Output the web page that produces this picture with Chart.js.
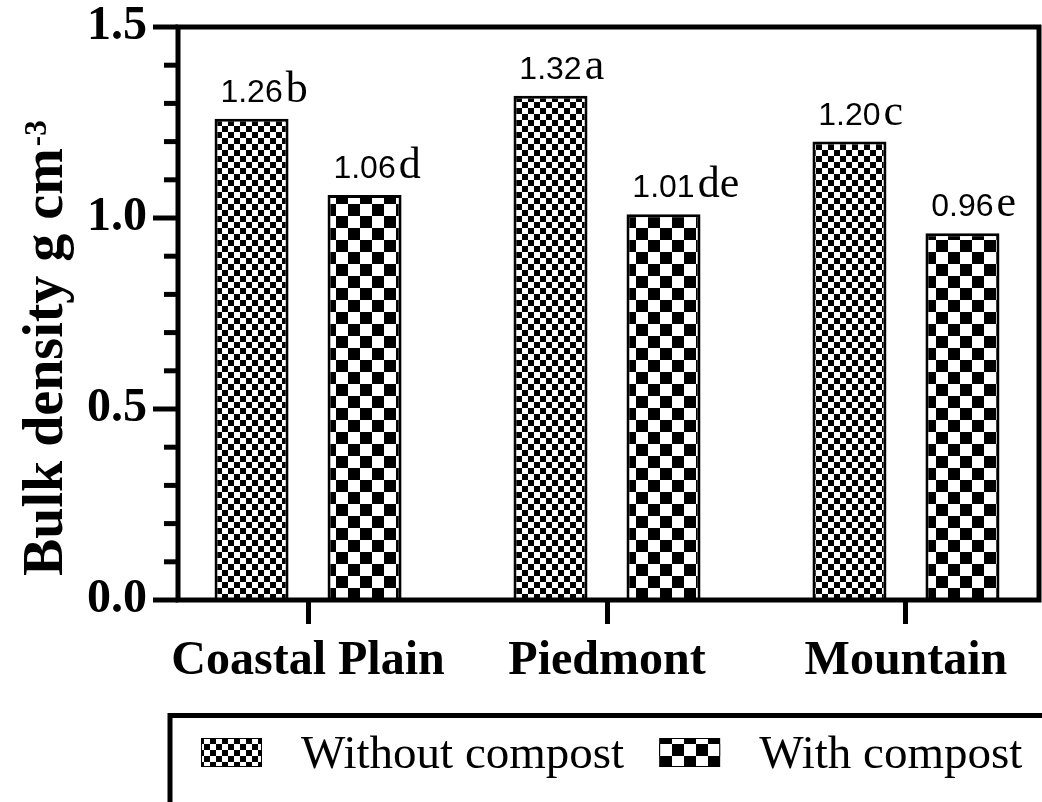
<!DOCTYPE html>
<html>
<head>
<meta charset="utf-8">
<script src="https://cdn.jsdelivr.net/npm/chart.js@4.4.1/dist/chart.umd.min.js"></script>
<style>
  html, body { margin: 0; padding: 0; background: #fff; }
  canvas { display: block; }
</style>
</head>
<body>
<canvas id="chart" width="1042" height="802"></canvas>
<script>
const categories = ['Coastal Plain', 'Piedmont', 'Mountain'];
const seriesNames = ['Without compost', 'With compost'];
const withoutCompost = [1.26, 1.32, 1.20];
const withCompost = [1.06, 1.01, 0.96];
const withoutLetters = ['b', 'a', 'c'];
const withLetters = ['d', 'de', 'e'];
const yTicks = [0, 0.5, 1.0, 1.5];

const canvas = document.getElementById('chart');
const ctx = canvas.getContext('2d');

// black/white checkerboard fill, cell = square size in px
function checker(cell) {
    const c = document.createElement('canvas');
    c.width = c.height = cell * 2;
    const g = c.getContext('2d');
    g.fillStyle = '#fff';
    g.fillRect(0, 0, cell * 2, cell * 2);
    g.fillStyle = '#000';
    g.fillRect(0, 0, cell, cell);
    g.fillRect(cell, cell, cell, cell);
    return ctx.createPattern(c, 'repeat');
}

const fineCheck = checker(6);
const coarseCheck = checker(12);
const letters = [withoutLetters, withLetters];

// box round the plot + y tick marks (major every 0.5, minor every 0.1)
const frame = {
    id: 'frame',
    afterDraw(chart) {
        const { ctx, chartArea: a, scales: { y } } = chart;
        ctx.save();
        ctx.strokeStyle = '#000';
        ctx.lineWidth = 5;
        ctx.strokeRect(a.left, a.top, a.right - a.left, a.bottom - a.top);
        for (let i = 0; i <= 15; i++) {
            const py = y.getPixelForValue(i / 10);
            const len = i % 5 === 0 ? 25 : 14;
            ctx.beginPath();
            ctx.moveTo(a.left - len, py);
            ctx.lineTo(a.left, py);
            ctx.stroke();
        }
        ctx.restore();
    }
};

// value + significance letter above each bar
const barLabels = {
    id: 'barLabels',
    afterDatasetsDraw(chart) {
        const ctx = chart.ctx;
        ctx.save();
        ctx.fillStyle = '#000';
        ctx.textBaseline = 'alphabetic';
        chart.data.datasets.forEach((ds, di) => {
            chart.getDatasetMeta(di).data.forEach((bar, i) => {
                const num = ds.data[i].y.toFixed(2);
                const base = bar.y - 17;
                ctx.font = '32px "Liberation Sans"';
                ctx.textAlign = 'center';
                const w = ctx.measureText(num).width;
                ctx.fillText(num, bar.x, base);
                ctx.font = '44px "Liberation Serif"';
                ctx.textAlign = 'left';
                ctx.fillText(letters[di][i], bar.x + w / 2 + 3, base);
            });
        });
        ctx.restore();
    }
};

// rotated y title with superscript
const yTitle = {
    id: 'yTitle',
    afterDraw(chart) {
        const ctx = chart.ctx;
        ctx.save();
        ctx.translate(62, 0);
        ctx.rotate(-Math.PI / 2);
        ctx.fillStyle = '#000';
        ctx.textAlign = 'left';
        ctx.textBaseline = 'alphabetic';
        ctx.font = 'bold 56px "Liberation Serif"';
        const main = 'Bulk density g cm';
        const start = -576;
        ctx.fillText(main, start, 0);
        const mw = ctx.measureText(main).width;
        ctx.font = 'bold 31px "Liberation Serif"';
        ctx.fillText('-3', start + mw + 2, -16);
        ctx.restore();
    }
};

// boxed legend under the axis
const boxLegend = {
    id: 'boxLegend',
    afterDraw(chart) {
        const ctx = chart.ctx;
        const left = 170, top = 715.5;
        ctx.save();
        ctx.strokeStyle = '#000';
        ctx.lineWidth = 5;
        ctx.strokeRect(left, top, chart.width - left + 20, chart.height - top + 20);
        let x = left + 31;
        ctx.font = '47px "Liberation Serif"';
        ctx.textAlign = 'left';
        ctx.textBaseline = 'alphabetic';
        chart.data.datasets.forEach(ds => {
            ctx.fillStyle = ds.backgroundColor;
            ctx.fillRect(x, 738, 61, 29);
            ctx.lineWidth = 1;
            ctx.strokeRect(x + 0.5, 738.5, 60, 28);
            x += 61 + 39;
            ctx.fillStyle = '#000';
            ctx.fillText(ds.label, x, 768);
            x += ctx.measureText(ds.label).width + 35;
        });
        ctx.restore();
    }
};

const serif = 'Liberation Serif';

new Chart(ctx, {
    type: 'bar',
    data: {
        datasets: [
            {
                label: seriesNames[0],
                data: categories.map((_, i) => ({ x: i, y: withoutCompost[i] })),
                backgroundColor: fineCheck,
                borderColor: '#000',
                borderWidth: 3,
                categoryPercentage: 0.756,
                barPercentage: 0.655
            },
            {
                label: seriesNames[1],
                data: categories.map((_, i) => ({ x: i, y: withCompost[i] })),
                backgroundColor: coarseCheck,
                borderColor: '#000',
                borderWidth: 3,
                categoryPercentage: 0.756,
                barPercentage: 0.655
            }
        ]
    },
    options: {
        responsive: false,
        animation: false,
        devicePixelRatio: 1,
        layout: { padding: { top: 27, right: 3, bottom: 100, left: 0 } },
        plugins: { legend: { display: false }, tooltip: { enabled: false } },
        scales: {
            x: {
                type: 'linear',
                bounds: 'data',
                offset: false,
                min: -0.435,
                max: 2.445,
                afterBuildTicks: s => { s.ticks = categories.map((_, i) => ({ value: i })); },
                afterFit: s => { s.height = 102; },
                grid: { offset: false, drawOnChartArea: false, drawTicks: true, tickLength: 24, tickWidth: 5, tickColor: '#000' },
                border: { display: false },
                ticks: {
                    callback: v => categories[v],
                    autoSkip: false,
                    maxRotation: 0,
                    padding: 14,
                    color: '#000',
                    font: { family: serif, weight: 'bold', size: 48, lineHeight: 1 }
                }
            },
            y: {
                min: 0,
                max: 1.5,
                afterBuildTicks: s => { s.ticks = yTicks.map(v => ({ value: v })); },
                afterFit: s => { s.width = 178; s.paddingTop = 0; s.paddingBottom = 0; },
                grid: { display: false, drawTicks: false },
                border: { display: false },
                ticks: {
                    callback: v => v.toFixed(1),
                    padding: 31,
                    color: '#000',
                    font: { family: serif, weight: 'bold', size: 48, lineHeight: 1 }
                }
            }
        }
    },
    plugins: [frame, barLabels, yTitle, boxLegend]
});
</script>
</body>
</html>
